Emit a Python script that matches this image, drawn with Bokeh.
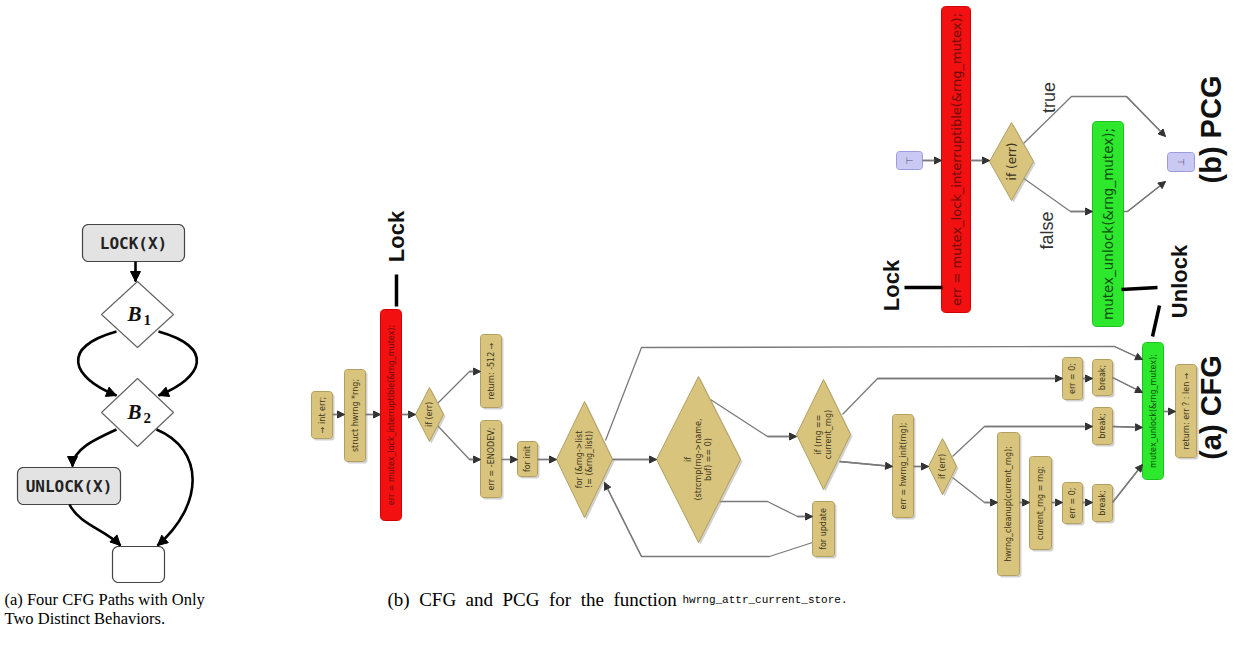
import math
from bokeh.plotting import figure
from bokeh.models import Range1d, Arrow, NormalHead
from bokeh.core.properties import value
from bokeh.embed import file_html
from bokeh.resources import INLINE

H = 645


def Y(v):
    return H - v


# ================= DATA =================
# ---- (a) left panel: four CFG paths ----
left_box_labels = ["LOCK(X)", "UNLOCK(X)", ""]
left_box_x0 = [83, 18, 113]
left_box_x1 = [185, 121, 165]
left_box_y0 = [225, 468, 547]
left_box_y1 = [262, 505, 583]

left_dia_letter = ["B", "B"]
left_dia_index = ["1", "2"]
left_dia_cx = [138, 138]
left_dia_cy = [315, 413]
left_dia_hw = [36, 36]
left_dia_hh = [33, 34]

# cubic curves: start, control 1, control 2, end
left_curves = [
    [(136, 262), (136, 268), (136, 276), (136, 282)],
    [(117, 332), (60, 348), (72, 378), (117, 396)],
    [(159, 332), (216, 348), (204, 378), (159, 396)],
    [(117, 430), (95, 440), (73, 450), (73, 467)],
    [(157, 430), (205, 450), (205, 505), (158, 546)],
    [(70, 505), (80, 525), (105, 530), (121, 546)],
]

# ---- (b) CFG plain statement nodes ----
cfg_box_labels = ["→ int err;", "struct hwrng *rng;", "return: -512 →", "err = -ENODEV;",
                  "for init", "for update", "err = hwrng_init(rng);",
                  "hwrng_cleanup(current_rng);", "current_rng = rng;", "err = 0;", "break;",
                  "break;", "err = 0;", "break;", "return: err ? : len →"]
cfg_box_x0 = [312, 345, 481, 481, 518, 813, 893, 998, 1030, 1063, 1093, 1093, 1063, 1093, 1176]
cfg_box_x1 = [333, 366, 502, 502, 538, 835, 914, 1020, 1052, 1083, 1113, 1113, 1083, 1113, 1197]
cfg_box_y0 = [392, 370, 335, 421, 442, 502, 415, 433, 457, 483, 485, 408, 358, 360, 365]
cfg_box_y1 = [439, 462, 408, 498, 477, 557, 518, 576, 550, 524, 522, 445, 400, 396, 458]

# lock / unlock nodes (CFG and PCG)
lock_labels = ["err = mutex_lock_interruptible(&rng_mutex);", "err = mutex_lock_interruptible(&rng_mutex);"]
lock_x0 = [381, 942]
lock_x1 = [402, 971]
lock_y0 = [310, 7]
lock_y1 = [521, 313]
lock_size = ["8px", "13px"]

unlock_labels = ["mutex_unlock(&rng_mutex);", "mutex_unlock(&rng_mutex);"]
unlock_x0 = [1143, 1093]
unlock_x1 = [1164, 1124]
unlock_y0 = [343, 122]
unlock_y1 = [480, 327]
unlock_size = ["8px", "13.5px"]

# decision nodes
dia_labels = ["if (err)", "for (&rng->list\n!= (&rng_list))", "if\n(strcmp(rng->name,\nbuf) == 0)",
              "if (rng ==\ncurrent_rng)", "if (err)", "if (err)"]
dia_cx = [430, 585, 699, 824, 943, 1012]
dia_cy = [415, 460, 460, 435, 467, 162]
dia_hw = [14, 28, 42, 27, 14, 22]
dia_hh = [27, 58, 83, 55, 28, 39]
dia_size = ["8px", "8px", "8px", "8px", "8px", "12px"]

# PCG entry / exit nodes
term_labels = ["⊤", "⊥"]
term_x0 = [897, 1168]
term_x1 = [923, 1195]
term_y0 = [152, 153]
term_y1 = [170, 172]

# edges (polylines, arrow at the end)
cfg_edges = [
    [(333, 415), (345, 415)],
    [(366, 415), (381, 415)],
    [(402, 415), (416, 415)],
    [(438, 404), (470, 372), (481, 372)],
    [(438, 426), (470, 460), (481, 460)],
    [(502, 460), (518, 460)],
    [(538, 460), (557, 460)],
    [(606, 441), (642, 348), (1115, 347), (1143, 360)],
    [(613, 460), (657, 460)],
    [(711, 400), (768, 437), (797, 437)],
    [(720, 502), (768, 502), (798, 517), (813, 517)],
    [(813, 543), (770, 557), (642, 557), (605, 483)],
    [(843, 415), (878, 379), (1063, 379)],
    [(1083, 379), (1093, 379)],
    [(1113, 378), (1143, 393)],
    [(840, 462), (893, 467)],
    [(914, 467), (929, 467)],
    [(953, 457), (985, 427), (1093, 427)],
    [(1113, 427), (1143, 428)],
    [(953, 478), (985, 503), (998, 503)],
    [(1020, 503), (1030, 503)],
    [(1052, 503), (1063, 503)],
    [(1083, 503), (1093, 503)],
    [(1113, 503), (1143, 465)],
    [(1164, 412), (1176, 412)],
]
pcg_edges = [
    [(923, 161), (942, 161)],
    [(971, 161), (990, 161)],
    [(1023, 145), (1072, 97), (1127, 97), (1166, 137)],
    [(1023, 178), (1071, 212), (1093, 212)],
    [(1124, 212), (1128, 212), (1166, 182)],
]

# edge labels
edge_labels = ["true", "false"]
edge_label_x = [1049, 1047]
edge_label_y = [98, 231]

# marker labels (Lock / Unlock) and their pointer strokes
marker_labels = ["Lock", "Lock", "Unlock"]
marker_x = [397, 892, 1180]
marker_y = [237, 286, 282]
marker_strokes = [
    [(397, 275), (397, 307)],
    [(905, 288), (943, 288)],
    [(1122, 290), (1158, 288)],
    [(1153, 337), (1160, 306)],
]

panel_labels = ["(a) CFG", "(b) PCG"]
panel_x = [1211, 1211]
panel_y = [408, 130]

captions = ["(a) Four CFG Paths with Only", "Two Distinct Behaviors.",
            "(b) CFG and PCG for the function"]
caption_x = [5, 5, 388]
caption_y = [600, 619, 600]
caption_size = ["16.5px", "16.5px", "19px"]
code_caption = "hwrng_attr_current_store."
code_caption_x = 683


# ================= DRAWING =================
def rrect(x0, x1, y0, y1, r):
    xs, ys = [], []
    corners = [(x1 - r, y0 + r, -90, 0), (x1 - r, y1 - r, 0, 90),
               (x0 + r, y1 - r, 90, 180), (x0 + r, y0 + r, 180, 270)]
    for cx, cy, a0, a1 in corners:
        for k in range(7):
            a = math.radians(a0 + (a1 - a0) * k / 6)
            xs.append(cx + r * math.cos(a))
            ys.append(Y(cy + r * math.sin(a)))
    return xs, ys


def diamond(cx, cy, hw, hh, dx=0, dy=0):
    return ([cx - hw + dx, cx + dx, cx + hw + dx, cx + dx],
            [Y(cy + dy), Y(cy - hh + dy), Y(cy + dy), Y(cy + hh + dy)])


p = figure(width=1230, height=629, output_backend="svg", toolbar_location=None,
           x_range=Range1d(1, 1231), y_range=Range1d(Y(630), Y(1)), min_border=0,
           x_axis_location=None, y_axis_location=None)
p.grid.visible = False
p.outline_line_color = None
p.background_fill_color = "white"
p.border_fill_color = "white"

SANS = value("DejaVu Sans")
LAB = value("Liberation Sans")
SERIF = value("Liberation Serif")

# ---- left panel ----
for lab, x0, x1, y0, y1 in zip(left_box_labels, left_box_x0, left_box_x1, left_box_y0, left_box_y1):
    xs, ys = rrect(x0, x1, y0, y1, 6)
    p.patch(xs, ys, fill_color="#e3e3e3" if lab else "white", line_color="#444444", line_width=1.2)
    if lab:
        p.text([(x0 + x1) / 2], [Y((y0 + y1) / 2)], text=[lab], text_font=value("DejaVu Sans Mono"),
               text_font_style="bold", text_font_size="16px", text_align="center",
               text_baseline="middle", text_color="#222222")

for let, idx, cx, cy, hw, hh in zip(left_dia_letter, left_dia_index, left_dia_cx, left_dia_cy,
                                    left_dia_hw, left_dia_hh):
    xs, ys = diamond(cx, cy, hw, hh)
    p.patch(xs, ys, fill_color="white", line_color="#666666", line_width=1.2)
    p.text([cx - 3], [Y(cy - 1)], text=[let], text_font=SERIF, text_font_style="bold italic",
           text_font_size="21px", text_align="center", text_baseline="middle", text_color="#111111")
    p.text([cx + 6], [Y(cy + 5)], text=[idx], text_font=SERIF, text_font_style="bold",
           text_font_size="15px", text_align="left", text_baseline="middle", text_color="#111111")

for c in left_curves:
    (x0, y0), (cx0, cy0), (cx1, cy1), (x1, y1) = c
    p.bezier(x0=[x0], y0=[Y(y0)], x1=[x1], y1=[Y(y1)], cx0=[cx0], cy0=[Y(cy0)],
             cx1=[cx1], cy1=[Y(cy1)], line_color="black", line_width=2.6)
    dx, dy = x1 - cx1, y1 - cy1
    n = math.hypot(dx, dy) or 1
    p.add_layout(Arrow(end=NormalHead(size=10, fill_color="black", line_color="black"),
                       x_start=x1 - 4 * dx / n, y_start=Y(y1 - 4 * dy / n), x_end=x1, y_end=Y(y1),
                       line_color="black", line_width=2))

# ---- edges ----
for e in cfg_edges + pcg_edges:
    p.line([pt[0] for pt in e], [Y(pt[1]) for pt in e], line_color="#7a7a7a", line_width=1.3)
    (xa, ya), (xb, yb) = e[-2], e[-1]
    p.add_layout(Arrow(end=NormalHead(size=7, fill_color="#333333", line_color="#333333"),
                       x_start=xa, y_start=Y(ya), x_end=xb, y_end=Y(yb),
                       line_color="#7a7a7a", line_width=1.3))

# ---- CFG statement nodes ----
for lab, x0, x1, y0, y1 in zip(cfg_box_labels, cfg_box_x0, cfg_box_x1, cfg_box_y0, cfg_box_y1):
    xs, ys = rrect(x0 + 2, x1 + 2, y0 + 2, y1 + 2, 3)
    p.patch(xs, ys, fill_color="#9a9a9a", fill_alpha=0.45, line_color=None)
    xs, ys = rrect(x0, x1, y0, y1, 3)
    p.patch(xs, ys, fill_color="#d8c47c", line_color="#b3a060", line_width=1)
    p.text([(x0 + x1) / 2], [Y((y0 + y1) / 2)], text=[lab], angle=math.pi / 2, text_font=SANS,
           text_font_size="8px", text_align="center", text_baseline="middle", text_color="#3a3520")

for lab, x0, x1, y0, y1, fs in zip(lock_labels, lock_x0, lock_x1, lock_y0, lock_y1, lock_size):
    xs, ys = rrect(x0, x1, y0, y1, 4)
    p.patch(xs, ys, fill_color="#f21010", line_color="#d00000", line_width=1)
    p.text([(x0 + x1) / 2], [Y((y0 + y1) / 2)], text=[lab], angle=math.pi / 2, text_font=SANS,
           text_font_size=fs, text_align="center", text_baseline="middle", text_color="#6a0d0d")

for lab, x0, x1, y0, y1, fs in zip(unlock_labels, unlock_x0, unlock_x1, unlock_y0, unlock_y1, unlock_size):
    xs, ys = rrect(x0, x1, y0, y1, 4)
    p.patch(xs, ys, fill_color="#2ee82e", line_color="#1cc21c", line_width=1)
    p.text([(x0 + x1) / 2], [Y((y0 + y1) / 2)], text=[lab], angle=math.pi / 2, text_font=SANS,
           text_font_size=fs, text_align="center", text_baseline="middle", text_color="#0f4d0f")

for lab, cx, cy, hw, hh, fs in zip(dia_labels, dia_cx, dia_cy, dia_hw, dia_hh, dia_size):
    xs, ys = diamond(cx, cy, hw, hh, 2, 2)
    p.patch(xs, ys, fill_color="#9a9a9a", fill_alpha=0.45, line_color=None)
    xs, ys = diamond(cx, cy, hw, hh)
    p.patch(xs, ys, fill_color="#d8c47c", line_color="#b3a060", line_width=1)
    p.text([cx], [Y(cy)], text=[lab], angle=math.pi / 2, text_font=SANS, text_font_size=fs,
           text_align="center", text_baseline="middle", text_color="#3a3520", text_line_height=1.1)

for lab, x0, x1, y0, y1 in zip(term_labels, term_x0, term_x1, term_y0, term_y1):
    xs, ys = rrect(x0, x1, y0, y1, 3)
    p.patch(xs, ys, fill_color="#c9c9f3", line_color="#9c9cdc", line_width=1)
    p.text([(x0 + x1) / 2], [Y((y0 + y1) / 2)], text=[lab], angle=math.pi / 2, text_font=SANS,
           text_font_size="9px", text_align="center", text_baseline="middle", text_color="#555577")

# ---- labels ----
p.text(edge_label_x, [Y(v) for v in edge_label_y], text=edge_labels, angle=math.pi / 2,
       text_font=LAB, text_font_size="18px", text_align="center", text_baseline="middle",
       text_color="#333333")

for s in marker_strokes:
    p.line([pt[0] for pt in s], [Y(pt[1]) for pt in s], line_color="black", line_width=3.5)
p.text(marker_x, [Y(v) for v in marker_y], text=marker_labels, angle=math.pi / 2, text_font=LAB,
       text_font_style="bold", text_font_size="22px", text_align="center", text_baseline="middle",
       text_color="#111111")
p.text(panel_x, [Y(v) for v in panel_y], text=panel_labels, angle=math.pi / 2, text_font=LAB,
       text_font_style="bold", text_font_size="29px", text_align="center", text_baseline="middle",
       text_color="#111111")

# ---- captions ----
for cap, cx, cy, fs in zip(captions, caption_x, caption_y, caption_size):
    shown = cap if cap.startswith("(a)") or cap.startswith("Two") else cap.replace(" ", "\u00a0 ")
    p.text([cx], [Y(cy)], text=[shown], text_font=SERIF, text_font_size=fs,
           text_align="left", text_baseline="middle", text_color="black")
p.text([code_caption_x], [Y(caption_y[2])], text=[code_caption], text_font=value("Liberation Mono"),
       text_font_size="11px", text_align="left", text_baseline="middle", text_color="black")

open("out.html", "w").write(file_html(p, INLINE))
